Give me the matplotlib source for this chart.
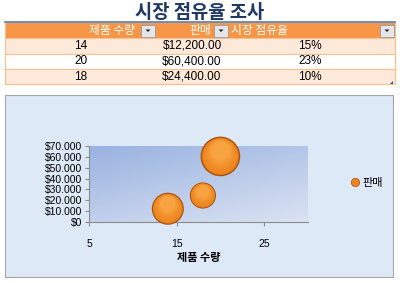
import numpy as np
import matplotlib
matplotlib.use("Agg")
import matplotlib.pyplot as plt
from matplotlib.patches import Rectangle, Polygon
from matplotlib.lines import Line2D
from matplotlib.ticker import FuncFormatter, MultipleLocator, FixedLocator
from matplotlib.transforms import offset_copy
from matplotlib.colors import to_rgb

# data
title = "시장 점유율 조사"
headers = ["제품 수량", "판매", "시장 점유율"]
quantity = [14, 20, 18]
sales = [12200, 60400, 24400]
share = [15, 23, 10]
series_name = "판매"
x_label = "제품 수량"
x_ticks = [5, 15, 25]

KR = ["Noto Sans CJK KR", "DejaVu Sans"]
NUM = ["Liberation Sans", "DejaVu Sans"]

W, H = 400, 283
fig = plt.figure(figsize=(W / 100, H / 100), dpi=100)
fig.patch.set_facecolor("white")

# pixel-space canvas for table and chart frame
bg = fig.add_axes([0, 0, 1, 1], zorder=0)
bg.set_xlim(0, W)
bg.set_ylim(H, 0)
bg.axis("off")

bg.text(200, 12, title, ha="center", va="center", fontsize=13.5,
        fontweight="bold", color="#1f3864", family=KR)

# table
tx0, tx1 = 5, 395
row_top = [22, 38, 54, 69]
row_h = [16, 16, 15, 15]
bg.add_patch(Rectangle((tx0, 22), tx1 - tx0, 16, facecolor="#f79646",
                       edgecolor="none"))
bg.plot([tx0, tx1], [22, 22], color="#4f81bd", lw=1.2)
for i in range(3):
    y = row_top[i + 1]
    fc = "#fde9d9" if i != 1 else "white"
    bg.add_patch(Rectangle((tx0, y), tx1 - tx0, row_h[i + 1], facecolor=fc,
                           edgecolor="#fac090", lw=0.8))
bg.add_patch(Rectangle((tx0, 22), tx1 - tx0, 62, facecolor="none",
                       edgecolor="#fac090", lw=0.8))
bg.add_patch(Polygon([[393, 84], [393, 81], [390, 84]], closed=True,
                     facecolor="#1f4e9a", edgecolor="none"))

hdr_x = [135, 211, 231]
hdr_ha = ["right", "right", "left"]
btn_x = [141, 214, 380]
for t, x, ha in zip(headers, hdr_x, hdr_ha):
    bg.text(x, 30.5, t, ha=ha, va="center", fontsize=8.5, color="white",
            style="italic", family=KR)
for bx in btn_x:
    bg.add_patch(Rectangle((bx, 24.5), 14, 12, facecolor="#e4e6ea",
                           edgecolor="#9a9a9a", lw=0.6))
    bg.add_patch(Polygon([[bx + 4.5, 29.5], [bx + 9.5, 29.5], [bx + 7, 32]],
                         closed=True, facecolor="#202020", edgecolor="none"))

col_cx = [81, 192, 310]
for i in range(3):
    yc = row_top[i + 1] + row_h[i + 1] / 2
    cells = [f"{quantity[i]}", f"${sales[i]:,.2f}", f"{share[i]}%"]
    for c, x in zip(cells, col_cx):
        bg.text(x, yc, c, ha="center", va="center", fontsize=8.5,
                color="black", family=NUM)

# chart frame
bg.add_patch(Rectangle((5, 95), 388, 182, facecolor="#dde9f6",
                       edgecolor="#a6a6a6", lw=0.8))

# plot area
left, right, top, bottom = 89, 308, 146, 222
ax = fig.add_axes([left / W, 1 - bottom / H, (right - left) / W,
                   (bottom - top) / H], zorder=2)
ax.set_facecolor("none")
ax.set_xlim(5, 30)
ax.set_ylim(0, 70000)

gx, gy = np.meshgrid(np.linspace(0, 1, 200), np.linspace(0, 1, 100))
t = np.clip(0.6 * gy + 0.4 * gx, 0, 1)
c0 = np.array([0.60, 0.70, 0.88])
c1 = np.array([0.86, 0.89, 0.95])
grad = c0 + (c1 - c0) * t[..., None]
ax.imshow(grad, extent=[0, 1, 0, 1], transform=ax.transAxes, aspect="auto",
          origin="upper", zorder=0)

for s in ["top", "right"]:
    ax.spines[s].set_visible(False)
for s in ["left", "bottom"]:
    ax.spines[s].set_color("#8c8c8c")
    ax.spines[s].set_linewidth(0.8)

ax.xaxis.set_major_locator(FixedLocator(x_ticks))
ax.yaxis.set_major_locator(MultipleLocator(10000))
ax.yaxis.set_major_formatter(FuncFormatter(
    lambda v, p: "$0" if v == 0 else "$" + f"{int(v):,}".replace(",", ".")))
ax.tick_params(axis="both", colors="#8c8c8c", labelcolor="black",
               length=3, width=0.8, labelsize=7.5)
ax.tick_params(axis="x", pad=9)
ax.tick_params(axis="y", pad=2)
for lab in ax.get_xticklabels() + ax.get_yticklabels():
    lab.set_family(NUM)
ax.set_xlabel(x_label, fontsize=8, fontweight="bold", style="italic",
              family=KR, labelpad=2)

# bubbles: radius in px proportional to sqrt(share), shaded in layers
r_px = 16 * np.sqrt(np.array(share) / 15)
r_pt = r_px * 0.72
rim = np.array(to_rgb("#a8500c"))
body = np.array(to_rgb("#ee861f"))
hi = np.array(to_rgb("#f8a341"))
n = 10
for q, v, r in zip(quantity, sales, r_pt):
    ax.scatter([q], [v], s=(2 * r) ** 2, color=rim, edgecolors="none",
               zorder=3, clip_on=False)
    for k in range(n):
        f = k / (n - 1)
        rr = r * (0.93 - 0.45 * f)
        col = body + (hi - body) * f ** 1.5
        if k == 0:
            col = body * 0.9 + rim * 0.1
        tr = offset_copy(ax.transData, fig=fig, x=0, y=r * 0.3 * f,
                         units="points")
        ax.scatter([q], [v], s=(2 * rr) ** 2, color=col, edgecolors="none",
                   zorder=4 + k, clip_on=False, transform=tr)

handle = Line2D([], [], marker="o", linestyle="none", markersize=6,
                markerfacecolor="#ee8422", markeredgecolor="#a9520c",
                markeredgewidth=0.5)
fig.legend([handle], [series_name], loc="center left",
           bbox_to_anchor=(338 / W, 1 - 183 / H), frameon=False,
           handletextpad=0.1, handlelength=1.2,
           prop={"family": KR, "size": 8, "style": "italic"})

fig.savefig("out.png", dpi=100)
